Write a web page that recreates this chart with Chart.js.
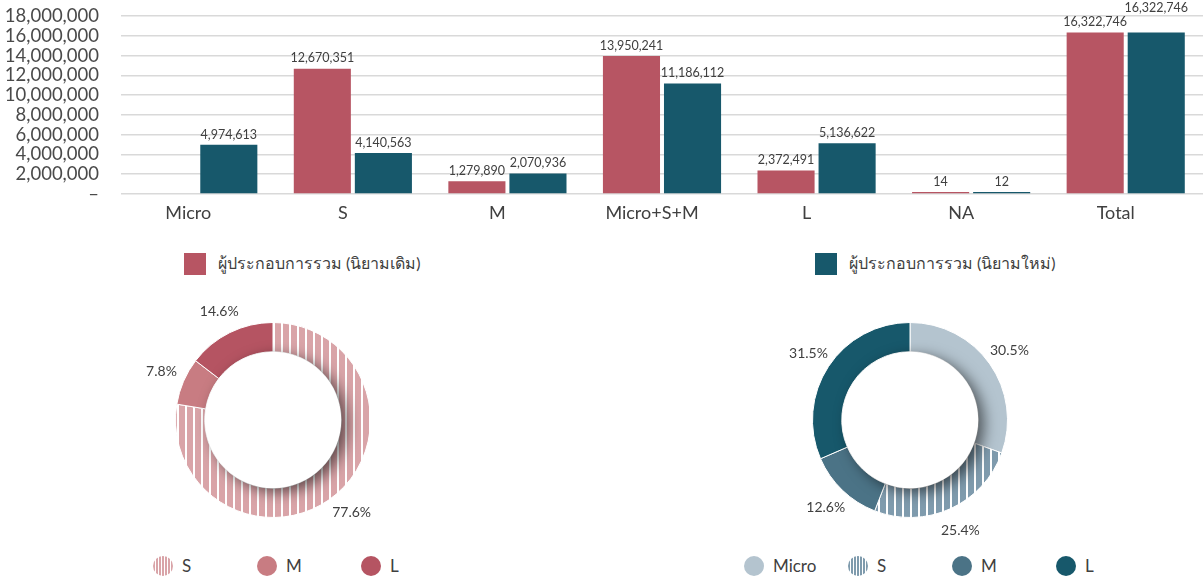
<!DOCTYPE html>
<html>
<head>
<meta charset="utf-8">
<script src="https://cdn.jsdelivr.net/npm/chart.js@4.4.1/dist/chart.umd.min.js"></script>
<style>
  body { margin: 0; background: #fff; font-family: Lato, "Noto Sans", sans-serif; color: #404040; }
  #wrap { position: relative; width: 1203px; height: 578px; overflow: hidden; }
  canvas { position: absolute; }
  .leg { position: absolute; display: flex; align-items: center; font-size: 16px; white-space: nowrap; }
  .sq { width: 22px; height: 22px; margin-right: 12px; }
  .dot { width: 20px; height: 20px; border-radius: 50%; margin-right: 9px; }
  .pleg { font-size: 17px; }
</style>
</head>
<body>
<div id="wrap">
  <canvas id="bars" width="1203" height="234" style="left:0;top:0"></canvas>
  <canvas id="pieOld" width="300" height="260" style="left:123px;top:290px"></canvas>
  <canvas id="pieNew" width="300" height="260" style="left:760px;top:290px"></canvas>
</div>
<script>
// --- data ---
const categories = ['Micro', 'S', 'M', 'Micro+S+M', 'L', 'NA', 'Total'];
const seriesNames = ['ผู้ประกอบการรวม (นิยามเดิม)', 'ผู้ประกอบการรวม (นิยามใหม่)'];
const oldDef = [null, 12670351, 1279890, 13950241, 2372491, 14, 16322746];
const newDef = [4974613, 4140563, 2070936, 11186112, 5136622, 12, 16322746];
const yTicks = [0, 2000000, 4000000, 6000000, 8000000, 10000000, 12000000, 14000000, 16000000, 18000000];

const oldPieLabels = ['S', 'M', 'L'];
const oldPieShares = [77.6, 7.8, 14.6];
const newPieLabels = ['Micro', 'S', 'M', 'L'];
const newPieShares = [30.5, 25.4, 12.6, 31.5];

const PINK = '#b75563';
const TEAL = '#17586b';
const TEXT = '#404040';
const FONT = 'Lato, "Noto Sans", sans-serif';

function stripes(base) {
  const c = document.createElement('canvas');
  c.width = 8; c.height = 8;
  const g = c.getContext('2d');
  g.fillStyle = base; g.fillRect(0, 0, 8, 8);
  g.fillStyle = '#fff'; g.fillRect(6, 0, 2, 8);
  return g.createPattern(c, 'repeat');
}

const oldPieColors = [stripes('#d9a4a8'), '#c87c82', '#b55462'];
const oldPieSwatch = ['repeating-linear-gradient(90deg,#d9a4a8 0 2px,#fff 2px 3px)', '#c87c82', '#b55462'];
const newPieColors = ['#b4c4cf', stripes('#7f9bad'), '#4b7386', TEAL];
const newPieSwatch = ['#b4c4cf', 'repeating-linear-gradient(90deg,#7f9bad 0 2px,#fff 2px 3px)', '#4b7386', TEAL];

// value labels above bars, nudged up when two labels collide
const barLabels = {
  id: 'barLabels',
  afterDatasetsDraw(chart) {
    const ctx = chart.ctx;
    ctx.save();
    ctx.font = '12.5px ' + FONT;
    ctx.fillStyle = TEXT;
    ctx.textAlign = 'center';
    ctx.textBaseline = 'bottom';
    const placed = [];
    chart.data.datasets.forEach((ds, di) => {
      chart.getDatasetMeta(di).data.forEach((bar, i) => {
        const v = ds.data[i];
        if (v == null) return;
        const txt = v.toLocaleString('en-US');
        const w = ctx.measureText(txt).width;
        let y = bar.y - 4;
        placed.forEach(p => {
          if (Math.abs(p.x - bar.x) < (p.w + w) / 2 && Math.abs(p.y - y) < 14) y = p.y - 14;
        });
        placed.push({ x: bar.x, y, w });
        ctx.fillText(txt, bar.x, y);
      });
    });
    ctx.restore();
  }
};

new Chart(document.getElementById('bars'), {
  type: 'bar',
  data: {
    labels: categories,
    datasets: [
      { label: seriesNames[0], data: oldDef, backgroundColor: PINK },
      { label: seriesNames[1], data: newDef, backgroundColor: TEAL }
    ]
  },
  options: {
    responsive: false,
    animation: false,
    events: [],
    categoryPercentage: 0.79,
    barPercentage: 0.935,
    minBarLength: 2,
    layout: { padding: { top: 16, right: 0, left: 0, bottom: 0 } },
    plugins: { legend: { display: false }, tooltip: { enabled: false } },
    scales: {
      x: {
        grid: { display: false },
        border: { display: false },
        ticks: { color: TEXT, font: { family: FONT, size: 18 }, padding: 0, maxRotation: 0, labelOffset: -10 },
        afterFit(s) { s.height = 40; }
      },
      y: {
        min: 0, max: 18000000,
        afterBuildTicks(s) { s.ticks = yTicks.map(v => ({ value: v })); },
        grid: { color: '#d9d9d9', lineWidth: 1.5, drawTicks: false },
        border: { display: false },
        ticks: {
          autoSkip: false,
          color: '#4a4a4a', font: { family: FONT, size: 18.5 }, padding: 22,
          callback: v => v === 0 ? '–' : v.toLocaleString('en-US')
        },
        afterFit(s) { s.width = 121; s.paddingTop = 0; s.paddingBottom = 0; }
      }
    }
  },
  plugins: [barLabels]
});

// soft shadow cast by the hole onto the ring
const ringShadow = {
  id: 'ringShadow',
  afterDatasetsDraw(chart) {
    const arc = chart.getDatasetMeta(0).data[0];
    const { x, y, innerRadius, outerRadius } = arc.getProps(['x', 'y', 'innerRadius', 'outerRadius']);
    const ctx = chart.ctx;
    ctx.save();
    ctx.beginPath();
    ctx.arc(x, y, outerRadius, 0, Math.PI * 2);
    ctx.arc(x, y, innerRadius, 0, Math.PI * 2, true);
    ctx.clip();
    ctx.shadowColor = 'rgba(0,0,0,0.55)';
    ctx.shadowBlur = 14;
    ctx.shadowOffsetX = 3000 + 6;
    ctx.shadowOffsetY = 4;
    ctx.beginPath();
    ctx.arc(x - 3000, y, innerRadius, 0, Math.PI * 2);
    ctx.fillStyle = '#000';
    ctx.fill();
    ctx.restore();
  }
};

const pctLabels = {
  id: 'pctLabels',
  afterDatasetsDraw(chart) {
    const ctx = chart.ctx;
    const ds = chart.data.datasets[0];
    ctx.save();
    ctx.font = '14px ' + FONT;
    ctx.fillStyle = TEXT;
    ctx.textAlign = 'center';
    ctx.textBaseline = 'middle';
    chart.getDatasetMeta(0).data.forEach((arc, i) => {
      const p = arc.getProps(['x', 'y', 'startAngle', 'endAngle', 'outerRadius']);
      const a = (p.startAngle + p.endAngle) / 2;
      const r = p.outerRadius + 24;
      ctx.fillText(ds.data[i].toFixed(1) + '%', p.x + Math.cos(a) * r, p.y + Math.sin(a) * r);
    });
    ctx.restore();
  }
};

function makePie(id, labels, shares, colors) {
  new Chart(document.getElementById(id), {
    type: 'doughnut',
    data: { labels, datasets: [{ data: shares, backgroundColor: colors, borderColor: '#fff', borderWidth: 1 }] },
    options: {
      responsive: false,
      animation: false,
      events: [],
      cutout: '70%',
      layout: { padding: { left: 52, right: 52, top: 32, bottom: 32 } },
      plugins: { legend: { display: false }, tooltip: { enabled: false } }
    },
    plugins: [ringShadow, pctLabels]
  });
}
makePie('pieOld', oldPieLabels, oldPieShares, oldPieColors);
makePie('pieNew', newPieLabels, newPieShares, newPieColors);

// --- html legends ---
const wrap = document.getElementById('wrap');
function addLegend(left, top, swatchCls, bg, text, extraCls) {
  const d = document.createElement('div');
  d.className = 'leg' + (extraCls ? ' ' + extraCls : '');
  d.style.left = left + 'px';
  d.style.top = top + 'px';
  const s = document.createElement('span');
  s.className = swatchCls;
  s.style.background = bg;
  d.appendChild(s);
  d.appendChild(document.createTextNode(text));
  wrap.appendChild(d);
}
addLegend(184, 251, 'sq', PINK, seriesNames[0]);
addLegend(815, 251, 'sq', TEAL, seriesNames[1]);
oldPieLabels.forEach((l, i) => addLegend(153 + i * 104, 555, 'dot', oldPieSwatch[i], l, 'pleg'));
newPieLabels.forEach((l, i) => addLegend(744 + i * 104, 555, 'dot', newPieSwatch[i], l, 'pleg'));
</script>
</body>
</html>
